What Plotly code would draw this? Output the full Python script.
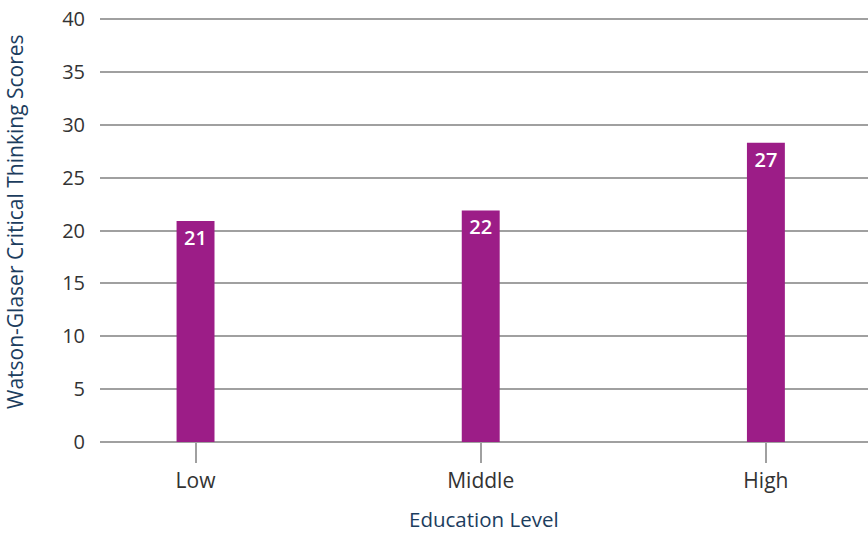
import plotly.graph_objects as go

categories = ["Low", "Middle", "High"]
scores = [20.9, 21.9, 28.3]
score_labels = ["21", "22", "27"]
y_ticks = [0, 5, 10, 15, 20, 25, 30, 35, 40]

navy = "#1c3d5e"
grid = "#a0a0a0"

fig = go.Figure(
    go.Bar(
        x=categories,
        y=scores,
        text=score_labels,
        textposition="inside",
        insidetextanchor="end",
        textangle=0,
        textfont=dict(family="Open Sans", size=20, color="white", weight=600),
        marker=dict(color="#9c1d87", line=dict(width=0)),
        width=0.133,
        cliponaxis=False,
        hoverinfo="x+y",
    )
)

fig.update_layout(
    width=868,
    height=533,
    margin=dict(l=100, r=0, t=17, b=91),
    paper_bgcolor="white",
    plot_bgcolor="white",
    showlegend=False,
    font=dict(family="Open Sans", color="#333333"),
    uniformtext=dict(minsize=10, mode="show"),
    annotations=[
        dict(
            text="Watson-Glaser Critical Thinking Scores",
            xref="paper", yref="paper",
            x=-0.1107, y=0.52,
            xanchor="center", yanchor="middle",
            textangle=-90,
            showarrow=False,
            font=dict(family="Open Sans", size=21, color=navy),
        ),
        dict(
            text="Education Level",
            xref="paper", yref="paper",
            x=0.5, y=-0.181,
            xanchor="center", yanchor="middle",
            showarrow=False,
            font=dict(family="Open Sans", size=20.5, color=navy),
        ),
    ],
)

fig.update_xaxes(
    type="category",
    range=[-0.335, 2.358],
    automargin=False,
    showgrid=False,
    showline=False,
    zeroline=False,
    ticks="outside",
    ticklen=20,
    tickwidth=1.5,
    tickcolor=grid,
    tickfont=dict(size=21, color="#333333"),
)

fig.update_yaxes(
    range=[0, 40.2],
    automargin=False,
    tickvals=y_ticks,
    showgrid=True,
    gridcolor=grid,
    gridwidth=1.5,
    zeroline=True,
    zerolinecolor=grid,
    zerolinewidth=1.5,
    showline=False,
    ticks="",
    ticklabelstandoff=14,
    tickfont=dict(size=20, color="#333333"),
)

fig.write_html(
    "out.html",
    config={"displayModeBar": False},
    post_script="document.body.style.margin='0';document.body.style.padding='0';",
)
